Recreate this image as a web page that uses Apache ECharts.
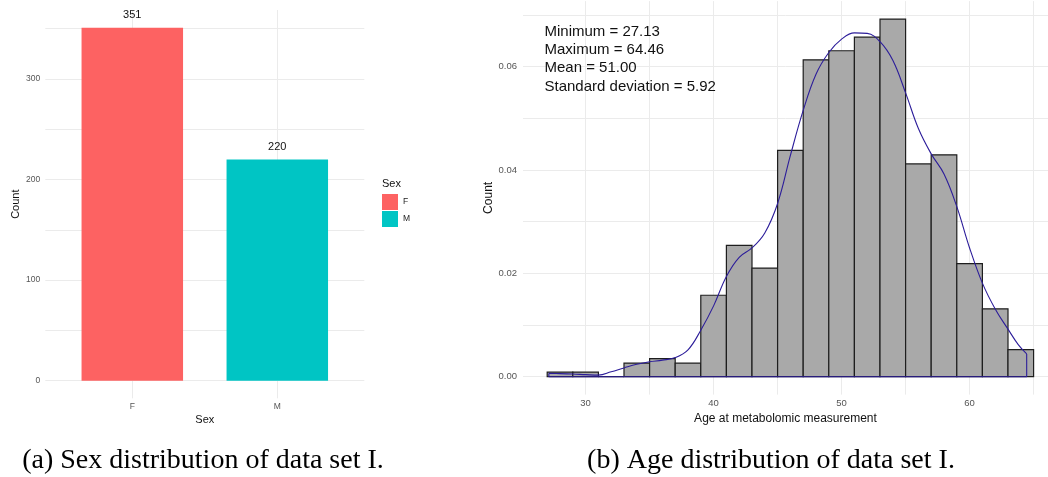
<!DOCTYPE html>
<html>
<head>
<meta charset="utf-8">
<script src="https://cdn.jsdelivr.net/npm/echarts@6/dist/echarts.min.js"></script>
<style>
  html, body { margin: 0; padding: 0; background: #fff; }
  #chart { width: 1048px; height: 477px; }
</style>
</head>
<body>
<div id="chart"></div>
<script>
// (a) sex counts
const sexCategories = ['F', 'M']
const sexCounts = [351, 220]
const sexTicks = [0, 100, 200, 300]

// (b) age histogram, bins of width 2 starting at 27
const binStarts = [27, 29, 31, 33, 35, 37, 39, 41, 43, 45, 47, 49, 51, 53, 55, 57, 59, 61, 63]
const binDensity = [0.00088, 0.00088, 0, 0.00263, 0.0035, 0.00263, 0.01576, 0.02539, 0.02102, 0.04378,
  0.0613, 0.06305, 0.06567, 0.06918, 0.04116, 0.04291, 0.02189, 0.01313, 0.00525]
const binWidth = 2

// kernel density curve
const curveAge = [27.13, 28, 29, 30, 31, 32, 33, 34, 35, 36, 37, 38, 39, 40, 41, 42, 43, 44, 45,
  46, 47, 48, 49, 50, 51, 52, 53, 54, 55, 56, 57, 58, 59, 60, 61, 62, 63, 63.8, 64.46]
const curveDensity = [0.00064, 0.0006, 0.00052, 0.0004, 0.0003, 0.00095, 0.0017, 0.0024, 0.0029, 0.0032,
  0.0037, 0.0052, 0.009, 0.0137, 0.0194, 0.0231, 0.0249, 0.0278, 0.0335, 0.0428, 0.0515,
  0.0585, 0.0627, 0.0653, 0.0665, 0.0664, 0.0648, 0.0612, 0.0549, 0.048, 0.0431, 0.0392,
  0.0329, 0.0249, 0.0181, 0.0131, 0.0092, 0.0062, 0.0044]
const ageTicks = [30, 40, 50, 60]
const densityTicks = [0, 0.02, 0.04, 0.06]
const statLines = ['Minimum = 27.13', 'Maximum = 64.46', 'Mean = 51.00', 'Standard deviation = 5.92']

const captions = ['(a) Sex distribution of data set I.', '(b) Age distribution of data set I.']

const sexColors = ['#fd6262', '#00c5c4']
const gridColor = '#ebebeb'
const tickColor = '#555'
const font = 'Liberation Sans'

const chart = echarts.init(document.getElementById('chart'))

const histData = binStarts.map((b, i) => [b, b + binWidth, binDensity[i]])
const curveData = curveAge.map((a, i) => [a, curveDensity[i]])
const last = curveData.length - 1
const outlineData = [
  [curveAge[last], curveDensity[last]], [curveAge[last], 0],
  [curveAge[0], 0], [curveAge[0], curveDensity[0]]
]

function axisCommon () {
  return {
    axisLine: { show: false },
    axisTick: { show: false },
    splitLine: { show: true, lineStyle: { color: gridColor, width: 1 } },
    axisLabel: { color: tickColor, fontFamily: font },
    nameMoveOverlap: false,
    nameTextStyle: { color: '#111', fontFamily: font }
  }
}

const xLeft = axisCommon()
Object.assign(xLeft, {
  gridIndex: 0, type: 'value', min: 0.4, max: 2.6,
  name: 'Sex', nameLocation: 'middle', nameGap: 16.5
})
xLeft.axisTick.customValues = [1, 2]
Object.assign(xLeft.axisLabel, {
  customValues: [1, 2], fontSize: 8.5, margin: 4,
  formatter: v => sexCategories[Math.round(v) - 1]
})
xLeft.nameTextStyle.fontSize = 11

const yLeft = axisCommon()
Object.assign(yLeft, {
  gridIndex: 0, type: 'value', min: -17.55, max: 368.55,
  name: 'Count', nameLocation: 'middle', nameGap: 24, nameRotate: 90
})
yLeft.axisTick.customValues = [0, 50, 100, 150, 200, 250, 300, 350]
Object.assign(yLeft.axisLabel, { customValues: sexTicks, fontSize: 8.5, margin: 5 })
yLeft.nameTextStyle.fontSize = 11

const xRight = axisCommon()
Object.assign(xRight, {
  gridIndex: 1, type: 'value', min: 25.11, max: 66.125,
  name: 'Age at metabolomic measurement', nameLocation: 'middle', nameGap: 18
})
xRight.axisTick.customValues = [30, 35, 40, 45, 50, 55, 60, 65]
Object.assign(xRight.axisLabel, { customValues: ageTicks, fontSize: 9.5, margin: 4 })
xRight.nameTextStyle.fontSize = 12

const yRight = axisCommon()
Object.assign(yRight, {
  gridIndex: 1, type: 'value', min: -0.00346, max: 0.07264,
  name: 'Count', nameLocation: 'middle', nameGap: 28, nameRotate: 90
})
yRight.axisTick.customValues = [0, 0.01, 0.02, 0.03, 0.04, 0.05, 0.06, 0.07]
Object.assign(yRight.axisLabel, {
  customValues: densityTicks, fontSize: 9.5, margin: 6,
  formatter: v => v.toFixed(2)
})
yRight.nameTextStyle.fontSize = 12

chart.setOption({
  animation: false,
  textStyle: { fontFamily: font },
  grid: [
    { left: 45.3, right: 683.7, top: 10, bottom: 78.7 },
    { left: 523, right: 0, top: 1.15, bottom: 82.4 }
  ],
  xAxis: [xLeft, xRight],
  yAxis: [yLeft, yRight],
  legend: {
    orient: 'vertical', left: 382, top: 194, padding: 0,
    itemWidth: 16, itemHeight: 16, itemGap: 1, icon: 'rect',
    textStyle: { fontSize: 8.5, color: '#222', fontFamily: font },
    data: sexCategories
  },
  graphic: [
    { type: 'text', x: 382, y: 178, z: 100, style: { text: 'Sex', fontSize: 11, fill: '#111', fontFamily: font } },
    {
      type: 'text', x: 544.5, y: 22.5, z: 100,
      style: { text: statLines.join('\n'), fontSize: 15, lineHeight: 18.3, fill: '#111', fontFamily: font, overflow: 'none' }
    },
    {
      type: 'text', x: 203, y: 461, z: 100,
      style: { text: captions[0], fontSize: 28, fill: '#000', fontFamily: 'Liberation Serif', align: 'center', verticalAlign: 'middle' }
    },
    {
      type: 'text', x: 771, y: 461, z: 100,
      style: { text: captions[1], fontSize: 28, fill: '#000', fontFamily: 'Liberation Serif', align: 'center', verticalAlign: 'middle' }
    }
  ],
  series: sexCategories.map((c, i) => ({
    name: c,
    type: 'bar',
    xAxisIndex: 0,
    yAxisIndex: 0,
    barWidth: 101.5,
    barGap: '-100%',
    itemStyle: { color: sexColors[i] },
    label: { show: true, position: 'top', distance: 7, fontSize: 11, color: '#111', fontFamily: font },
    data: [[i + 1, sexCounts[i]]]
  })).concat([
    {
      type: 'custom',
      xAxisIndex: 1,
      yAxisIndex: 1,
      encode: { x: [0, 1], y: 2 },
      renderItem: function (params, api) {
        const p0 = api.coord([api.value(0), api.value(2)])
        const p1 = api.coord([api.value(1), 0])
        return {
          type: 'rect',
          shape: { x: p0[0], y: p0[1], width: p1[0] - p0[0], height: p1[1] - p0[1] },
          style: { fill: '#a9a9a9', stroke: '#1e1e1e', lineWidth: 1.2 }
        }
      },
      data: histData
    },
    {
      type: 'line',
      xAxisIndex: 1,
      yAxisIndex: 1,
      smooth: 0.4,
      showSymbol: false,
      lineStyle: { color: '#2c1d9a', width: 1.1 },
      data: curveData,
      z: 5
    },
    {
      type: 'line',
      xAxisIndex: 1,
      yAxisIndex: 1,
      showSymbol: false,
      lineStyle: { color: '#2c1d9a', width: 1.1 },
      data: outlineData,
      z: 5
    }
  ])
})
</script>
</body>
</html>
